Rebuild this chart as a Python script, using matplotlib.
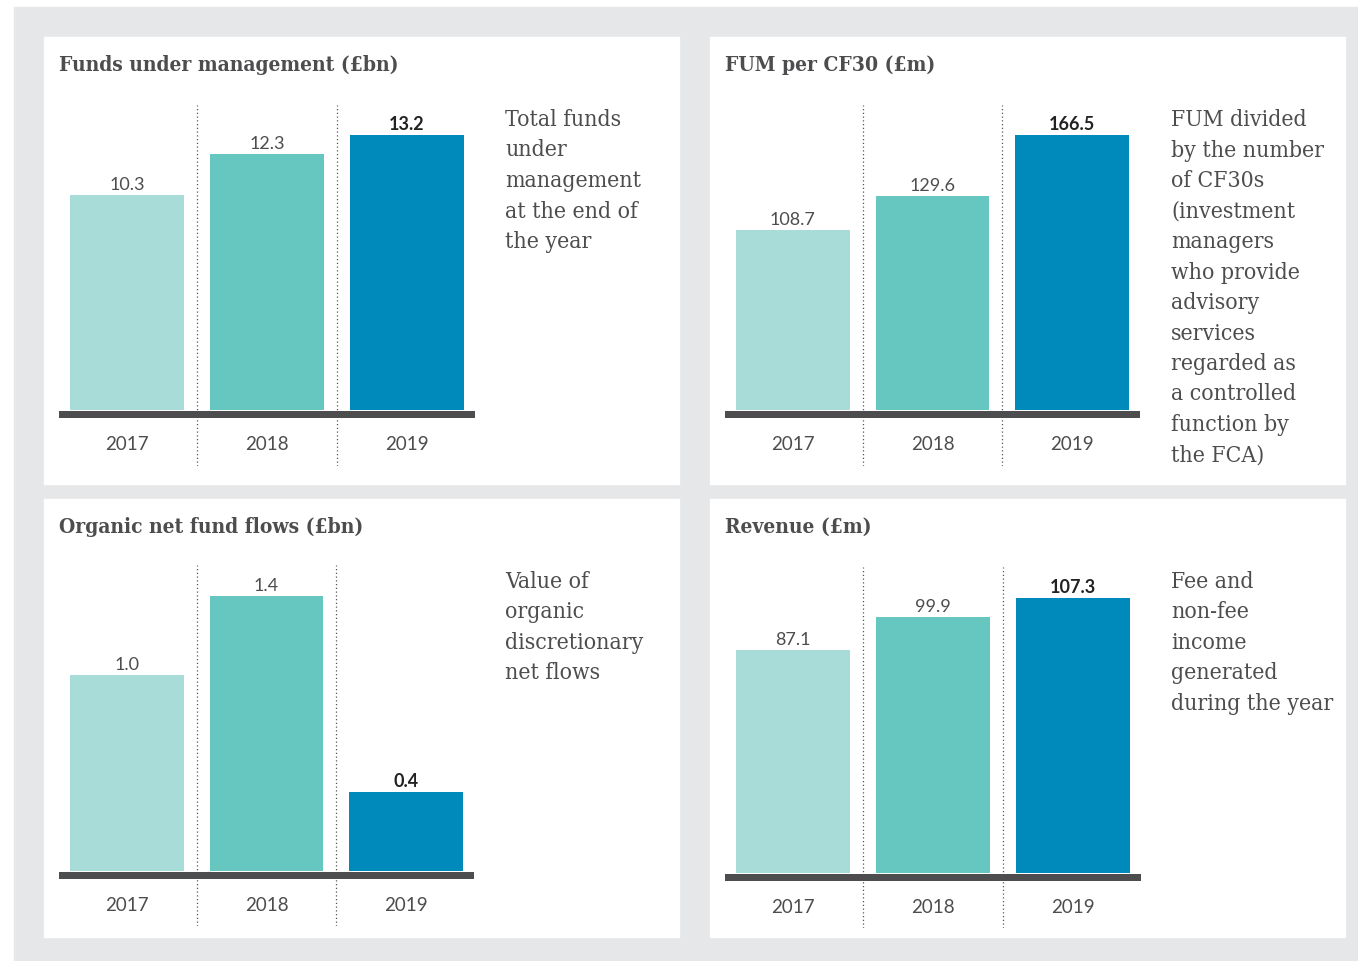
import matplotlib
matplotlib.use("Agg")
import matplotlib.pyplot as plt
from matplotlib.patches import Rectangle

W, H = 1358, 962
DPI = 100

# Data
years = ["2017", "2018", "2019"]

titles = [
    "Funds under management (£bn)",
    "FUM per CF30 (£m)",
    "Organic net fund flows (£bn)",
    "Revenue (£m)",
]

fum = [10.3, 12.3, 13.2]
fum_per_cf30 = [108.7, 129.6, 166.5]
net_flows = [1.0, 1.4, 0.4]
revenue = [87.1, 99.9, 107.3]

descriptions = [
    "Total funds\nunder\nmanagement\nat the end of\nthe year",
    "FUM divided\nby the number\nof CF30s\n(investment\nmanagers\nwho provide\nadvisory\nservices\nregarded as\na controlled\nfunction by\nthe FCA)",
    "Value of\norganic\ndiscretionary\nnet flows",
    "Fee and\nnon-fee\nincome\ngenerated\nduring the year",
]

series = [fum, fum_per_cf30, net_flows, revenue]

bar_colors = ["#a8dcd8", "#66c6c0", "#0089bb"]
text_col = "#4d4d4f"
bg_grey = "#e6e7e8"

serif = ["DejaVu Serif"]
sans = ["Lato", "DejaVu Sans"]

# panel boxes (pixels): left, top, right, bottom
panels = [
    (44, 38, 679, 485),
    (710, 38, 1345, 485),
    (44, 500, 679, 938),
    (710, 500, 1345, 938),
]
# chart area: baseline left, right, baseline top, separator top, separator bottom
charts = [
    (59, 475, 411, 106, 467),
    (725, 1140, 411, 106, 467),
    (59, 474, 872, 566, 927),
    (725, 1141, 874, 568, 929),
]
max_px = 275


def fx(px):
    return px / W


def fy(py):
    return 1 - py / H


fig = plt.figure(figsize=(W / DPI, H / DPI), dpi=DPI)
fig.patch.set_facecolor("white")

# grey background and white panels
fig.patches.append(Rectangle((fx(14), 0), 1 - fx(14), fy(8),
                             transform=fig.transFigure, color=bg_grey, zorder=0))
for (l, t, r, b) in panels:
    fig.patches.append(Rectangle((fx(l), fy(b)), fx(r - l), (b - t) / H,
                                 transform=fig.transFigure, color="white", zorder=1))

for i in range(4):
    l, t, r, b = panels[i]
    xl, xr, base, stop, sbot = charts[i]
    vals = series[i]
    vmax = max(vals)
    k = vmax / max_px  # data units per pixel

    # title
    fig.text(fx(l + 15), fy(t + 27), titles[i], fontsize=15, fontweight="bold",
             fontstretch="condensed",
             family=serif, color=text_col, va="center", ha="left", zorder=5)

    # description
    fig.text(fx(l + 461), fy(t + 71), descriptions[i], fontsize=16.5,
             fontstretch="condensed",
             family=serif, color=text_col, va="top", ha="left",
             linespacing=1.5, zorder=5)

    ax = fig.add_axes([fx(xl), fy(sbot), fx(xr - xl), (sbot - stop) / H])
    ax.set_zorder(3)
    ax.set_xlim(-0.486, 2.486)
    ax.set_ylim(-(sbot - base) * k, (base - stop) * k)
    ax.axis("off")

    x = range(len(years))
    ax.bar(x, vals, width=0.815, color=bar_colors, zorder=2)
    ax.axhline(-3.5 * k, color=text_col, linewidth=7 * 72 / DPI, zorder=3)
    for sx in (0.5, 1.5):
        ax.axvline(sx, color="#555555", linestyle=(0, (1, 2)),
                   linewidth=0.9, zorder=1)

    for j, v in enumerate(vals):
        last = j == len(vals) - 1
        ax.text(j, v + 3 * k, f"{v:.1f}", ha="center", va="bottom",
                fontsize=13, family=sans,
                fontweight="bold" if last else "normal",
                color="#222222" if last else text_col)
        ax.text(j, -34 * k, years[j], ha="center", va="center",
                fontsize=13.5, family=sans, fontweight="normal", color=text_col)

fig.savefig("out.png", dpi=DPI)
